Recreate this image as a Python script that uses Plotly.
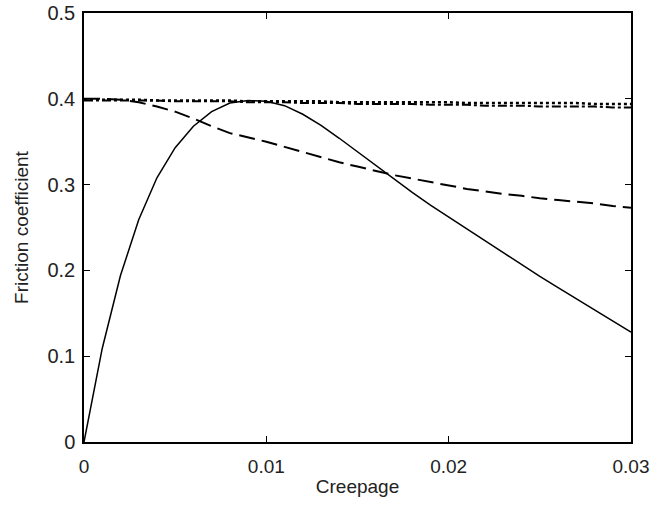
import plotly.graph_objects as go

creepage = [0.000, 0.001, 0.002, 0.003, 0.004, 0.005, 0.006, 0.007, 0.008, 0.009,
            0.010, 0.011, 0.012, 0.013, 0.014, 0.015, 0.016, 0.017, 0.018, 0.019,
            0.020, 0.021, 0.022, 0.023, 0.024, 0.025, 0.026, 0.027, 0.028, 0.029, 0.030]

solid = [0.000, 0.109, 0.194, 0.259, 0.308, 0.343, 0.368, 0.385, 0.395, 0.398,
         0.397, 0.392, 0.382, 0.369, 0.354, 0.338, 0.322, 0.306, 0.291, 0.276,
         0.262, 0.248, 0.234, 0.220, 0.206, 0.193, 0.180, 0.167, 0.154, 0.141, 0.128]

dashed = [0.400, 0.400, 0.399, 0.396, 0.391, 0.385, 0.377, 0.368, 0.360, 0.355,
          0.350, 0.344, 0.338, 0.332, 0.326, 0.321, 0.316, 0.311, 0.307, 0.303,
          0.299, 0.295, 0.292, 0.289, 0.287, 0.284, 0.282, 0.280, 0.278, 0.275, 0.273]

dotted = [0.399, 0.399, 0.399, 0.399, 0.398, 0.398, 0.398, 0.398, 0.398, 0.397,
          0.397, 0.397, 0.397, 0.397, 0.396, 0.396, 0.396, 0.396, 0.396, 0.396,
          0.396, 0.395, 0.395, 0.395, 0.395, 0.395, 0.395, 0.395, 0.394, 0.394, 0.394]

dashdot = [0.398, 0.398, 0.398, 0.398, 0.398, 0.397, 0.397, 0.397, 0.397, 0.396,
           0.396, 0.396, 0.395, 0.395, 0.395, 0.394, 0.394, 0.394, 0.394, 0.393,
           0.393, 0.393, 0.392, 0.392, 0.392, 0.391, 0.391, 0.391, 0.391, 0.390, 0.390]

x_ticks = [0, 0.01, 0.02, 0.03]
x_ticklabels = ["0", "0.01", "0.02", "0.03"]
y_ticks = [0, 0.1, 0.2, 0.3, 0.4, 0.5]
y_ticklabels = ["0", "0.1", "0.2", "0.3", "0.4", "0.5"]

fig = go.Figure()
fig.add_trace(go.Scatter(x=creepage, y=dotted, mode="lines",
                         line=dict(color="black", width=2.5, dash="dot")))
fig.add_trace(go.Scatter(x=creepage, y=dashdot, mode="lines",
                         line=dict(color="black", width=2, dash="dashdot")))
fig.add_trace(go.Scatter(x=creepage, y=dashed, mode="lines",
                         line=dict(color="black", width=2, dash="16px,7px")))
fig.add_trace(go.Scatter(x=creepage, y=solid, mode="lines",
                         line=dict(color="black", width=1.5)))

axis_common = dict(showline=True, linecolor="black", linewidth=1.5, mirror="ticks",
                   ticks="inside", ticklen=6, tickcolor="black", showgrid=False,
                   zeroline=False)

fig.update_xaxes(range=[0, 0.03], tickvals=x_ticks, ticktext=x_ticklabels,
                 ticklabelstandoff=6, tickfont=dict(size=19, color="#222"),
                 title=dict(text="Creepage", font=dict(size=19, color="#222"), standoff=4),
                 **axis_common)
fig.update_yaxes(range=[0, 0.5], tickvals=y_ticks, ticktext=y_ticklabels,
                 ticklabelstandoff=3, tickfont=dict(size=20, color="#222"),
                 title=dict(text="Friction coefficient", font=dict(size=19, color="#222"), standoff=14),
                 **axis_common)

fig.update_layout(width=650, height=506, showlegend=False,
                  margin=dict(l=84, r=19, t=13, b=64, autoexpand=False),
                  paper_bgcolor="white", plot_bgcolor="white",
                  font=dict(family="Liberation Sans, Arial, sans-serif", color="#222"))

fig.write_html("out.html", config={"displayModeBar": False},
               post_script="document.body.style.margin='0';")
